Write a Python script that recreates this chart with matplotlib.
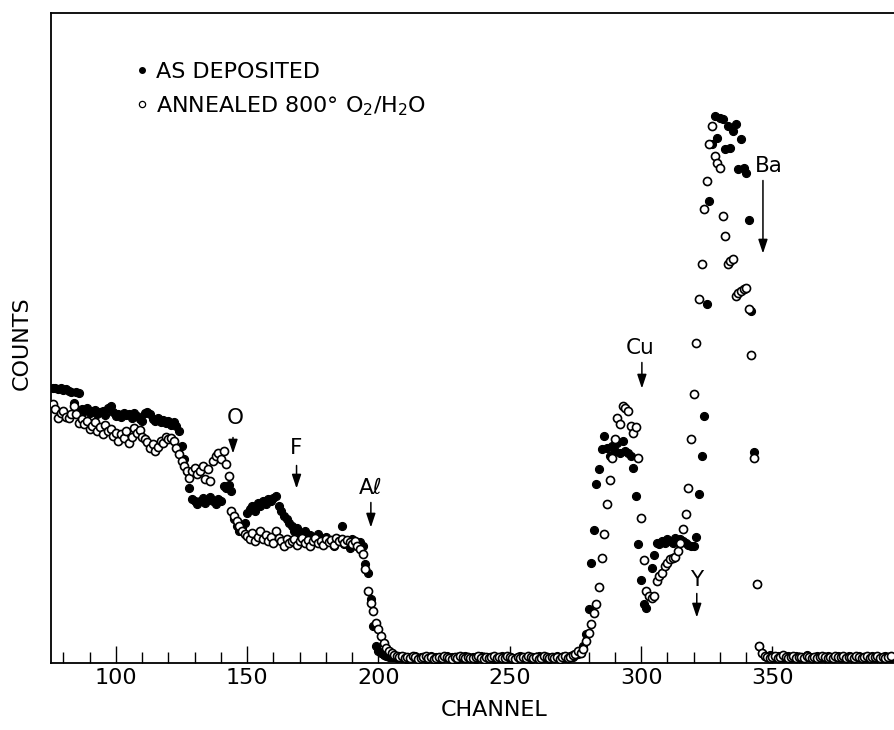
import numpy as np
import matplotlib
matplotlib.use("Agg")
import matplotlib.pyplot as plt
from matplotlib.lines import Line2D

plt.rcParams['font.family'] = ['DejaVu Sans']

# channels 76..395, one point per channel
channel = np.arange(76, 396)

# AS DEPOSITED (filled)
deposited = [
    275, 275, 274, 275, 273, 274, 272, 271, 260, 271,
    270, 254, 252, 255, 250, 252, 253, 249, 251, 252,
    248, 255, 257, 251, 247, 249, 246, 250, 248, 249,
    245, 250, 247, 244, 242, 250, 251, 249, 244, 242,
    245, 241, 243, 240, 242, 238, 241, 237, 232, 217,
    204, 192, 175, 164, 162, 159, 162, 165, 160, 163,
    166, 162, 159, 164, 162, 177, 175, 178, 172, 144,
    137, 132, 135, 140, 150, 154, 157, 152, 160, 157,
    162, 159, 164, 162, 165, 167, 157, 152, 147, 144,
    140, 137, 132, 135, 130, 127, 132, 124, 128, 126,
    122, 129, 125, 120, 126, 123, 121, 117, 124, 122,
    137, 119, 122, 115, 124, 120, 118, 121, 117, 99,
    90, 64, 37, 17, 12, 10, 8, 7, 6, 6,
    # 206-276 background
    6, 5, 7, 5, 6, 4, 6, 5, 7, 5,
    6, 5, 4, 6, 7, 5, 6, 4, 5, 6,
    7, 5, 6, 5, 4, 6, 5, 7, 6, 5,
    6, 4, 5, 7, 6, 5, 6, 5, 4, 6,
    5, 7, 6, 5, 6, 4, 5, 6, 7, 5,
    6, 5, 4, 6, 5, 7, 6, 5, 6, 4,
    5, 6, 7, 5, 6, 5, 6, 7, 6, 8, 9,
    # 277-346 Cu, Y, Ba
    10, 17, 29, 54, 100, 133, 179, 194, 214, 227,
    215, 207, 217, 212, 220, 210, 222, 212, 210, 207,
    195, 167, 119, 83, 59, 55, 67, 95, 108, 120,
    119, 122, 120, 124, 122, 120, 125, 123, 124, 122,
    120, 118, 117, 117, 126, 169, 207, 247, 359, 462,
    519, 547, 525, 545, 544, 514, 537, 515, 532, 539,
    494, 524, 495, 490, 443, 352, 211, 79, 17, 10,
    # 347-395 background
    7, 6, 8, 6, 5, 7, 6, 5, 6, 7,
    5, 6, 7, 6, 5, 6, 8, 6, 5, 6,
    7, 5, 6, 5, 7, 6, 5, 6, 7, 5,
    6, 5, 7, 6, 5, 6, 7, 5, 6, 5,
    6, 7, 5, 6, 5, 6, 7, 6, 5,
]

# ANNEALED 800 O2/H2O (open)
annealed = [
    259, 254, 245, 250, 252, 246, 245, 249, 257, 249,
    240, 244, 239, 242, 234, 237, 241, 232, 236, 229,
    238, 232, 234, 227, 230, 222, 229, 225, 232, 220,
    226, 235, 230, 233, 226, 224, 221, 215, 219, 212,
    216, 222, 220, 226, 224, 225, 222, 215, 209, 202,
    197, 192, 185, 192, 195, 189, 192, 197, 184, 194,
    182, 202, 207, 210, 204, 212, 199, 187, 152, 147,
    142, 137, 132, 129, 127, 124, 130, 122, 126, 132,
    124, 128, 122, 126, 120, 132, 125, 122, 117, 124,
    120, 122, 124, 118, 122, 125, 120, 123, 117, 122,
    125, 120, 122, 118, 124, 121, 123, 118, 125, 122,
    124, 120, 123, 121, 119, 122, 117, 114, 109, 94,
    72, 60, 52, 40, 34, 27, 20, 15, 12, 10,
    # 206-276 background
    8, 7, 6, 7, 5, 6, 5, 7, 6, 4,
    5, 6, 7, 5, 6, 4, 5, 6, 5, 7,
    6, 5, 4, 6, 5, 7, 6, 5, 6, 5,
    5, 6, 7, 5, 4, 6, 5, 6, 7, 5,
    6, 5, 5, 7, 6, 5, 4, 6, 5, 6,
    5, 7, 6, 5, 6, 4, 5, 7, 6, 5,
    6, 5, 6, 4, 6, 7, 5, 6, 8, 9, 12,
    # 277-346 Cu, Y, Ba
    10, 14, 22, 30, 39, 50, 59, 76, 105, 129,
    159, 183, 205, 224, 245, 239, 257, 255, 252, 237,
    230, 236, 205, 145, 103, 72, 67, 65, 67, 82,
    87, 90, 97, 100, 104, 105, 106, 112, 120, 134,
    149, 175, 224, 269, 320, 364, 399, 454, 482, 519,
    537, 507, 500, 495, 447, 427, 399, 402, 404, 367,
    370, 372, 374, 375, 354, 308, 205, 79, 17, 10,
    # 347-395 background
    7, 6, 5, 6, 7, 5, 6, 8, 6, 5,
    6, 7, 5, 6, 6, 5, 7, 6, 5, 6,
    5, 6, 7, 6, 5, 6, 5, 7, 6, 6,
    7, 5, 6, 6, 5, 7, 6, 5, 6, 7,
    5, 6, 6, 7, 5, 6, 5, 6, 7,
]

# element edges: label, channel, text height, arrow top, arrow tip
elements = ['O', 'F', 'A\u2113', 'Cu', 'Y', 'Ba']
edge_channel = [144.6, 168.8, 197.1, 300.3, 321.2, 346.4]
label_channel = [145.3, 168.8, 197.1, 299.5, 321.2, 348.7]
label_y = [245, 215, 175, 315, 83, 496]
arrow_top = [225, 197, 160, 300, 69, 482]
arrow_tip = [209, 174, 135, 274, 45, 409]

fig = plt.figure(figsize=(8.94, 7.30), dpi=100)
ax = fig.add_axes([51 / 894, 67.5 / 730, 843 / 894, 650 / 730])

ax.plot(channel, deposited, 'o', ms=5.8, color='black', mec='black', mew=0.8, zorder=3)
ax.plot(channel, annealed, 'o', ms=5.8, mfc='white', mec='black', mew=1.2, zorder=4)

for name, xc, xl, yl, y0, y1 in zip(elements, edge_channel, label_channel,
                                    label_y, arrow_top, arrow_tip):
    ax.text(xl, yl, name, fontsize=15.5, ha='center', va='center')
    ax.annotate('', xy=(xc, y1), xytext=(xc, y0),
                arrowprops=dict(arrowstyle='-|>,head_length=0.6,head_width=0.2',
                                color='black', lw=1.1, mutation_scale=14,
                                shrinkA=0, shrinkB=0))

ax.set_xlim(75.3, 396.3)
ax.set_ylim(0, 650)
ax.set_xticks([100, 150, 200, 250, 300, 350])
ax.set_xticks(np.arange(80, 400, 10), minor=True)
ax.set_yticks([])
ax.tick_params(axis='x', which='major', direction='in', length=12, width=1.0,
               labelsize=16, pad=4)
ax.tick_params(axis='x', which='minor', direction='in', length=8, width=1.0)
for s in ['left', 'bottom', 'top']:
    ax.spines[s].set_linewidth(1.3)
ax.spines['right'].set_visible(False)

ax.set_xlabel('CHANNEL', fontsize=16)
ax.xaxis.set_label_coords(443 / 843, -47.5 / 650)
ax.xaxis.label.set_va('center')
ax.set_ylabel('COUNTS', fontsize=16)
ax.yaxis.set_label_coords(-29 / 843, 319.5 / 650)
ax.yaxis.label.set_va('center')

handles = [
    Line2D([], [], ls='none', marker='o', ms=4, color='black'),
    Line2D([], [], ls='none', marker='o', ms=4.5, mfc='white', mec='black', mew=0.9),
]
labels = ['AS DEPOSITED', r'ANNEALED 800° O$_2$/H$_2$O']
fig.legend(handles, labels, loc='upper left', bbox_to_anchor=(135 / 894, 1 - 62 / 730),
           frameon=False, fontsize=16, handlelength=0.6, handletextpad=0.35,
           labelspacing=0.55, borderpad=0, borderaxespad=0)

fig.savefig('out.png', dpi=100)
